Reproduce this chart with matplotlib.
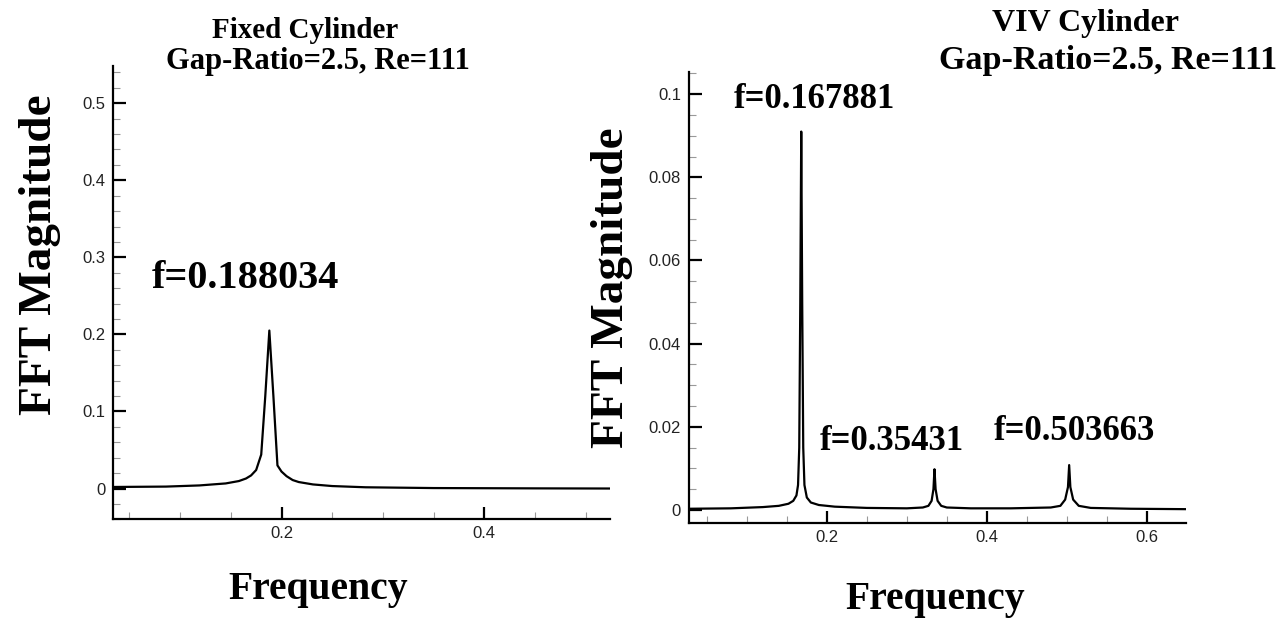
import matplotlib
matplotlib.use("Agg")
import matplotlib.pyplot as plt
from matplotlib.ticker import MultipleLocator

# Fixed cylinder spectrum
fixed_freq = [0.0335, 0.086, 0.119, 0.145, 0.158, 0.165, 0.170, 0.175,
              0.180, 0.184, 0.188, 0.192, 0.196, 0.200, 0.205, 0.211,
              0.217, 0.231, 0.25, 0.283, 0.35, 0.45, 0.524]
fixed_mag = [0.002, 0.0025, 0.004, 0.0066, 0.0097, 0.013, 0.017, 0.024,
             0.044, 0.120, 0.205, 0.120, 0.030, 0.022, 0.016, 0.011,
             0.0084, 0.0053, 0.0032, 0.0016, 0.0006, 0.0002, 0.0]
fixed_labels = ["f=0.188034"]

# VIV cylinder spectrum
viv_freq = [0.028, 0.08, 0.12, 0.14, 0.152, 0.158, 0.162, 0.164, 0.1655,
            0.1668, 0.168, 0.1692, 0.1705, 0.172, 0.175, 0.18, 0.19,
            0.21, 0.25, 0.30, 0.32, 0.327, 0.331, 0.3333, 0.3346, 0.336,
            0.3385, 0.343, 0.35, 0.38, 0.43, 0.48, 0.492, 0.498, 0.5015,
            0.503, 0.5045, 0.508, 0.515, 0.53, 0.58, 0.649]
viv_mag = [0.0003, 0.0004, 0.0007, 0.001, 0.0015, 0.0022, 0.0035, 0.006,
           0.015, 0.05, 0.091, 0.05, 0.015, 0.006, 0.003, 0.0018, 0.0012,
           0.0008, 0.0005, 0.0004, 0.0006, 0.001, 0.0022, 0.005, 0.0098,
           0.005, 0.0022, 0.001, 0.0006, 0.0004, 0.0004, 0.0006, 0.001,
           0.0025, 0.0055, 0.0108, 0.0055, 0.0025, 0.001, 0.0005, 0.0003,
           0.0002]
viv_labels = ["f=0.167881", "f=0.35431", "f=0.503663"]

serif = "Liberation Serif"
sans = "Liberation Sans"

fig = plt.figure(figsize=(12.85, 6.19), dpi=100)


def style_axes(ax, ypad):
    for s in ["top", "right"]:
        ax.spines[s].set_visible(False)
    for s in ["left", "bottom"]:
        ax.spines[s].set_linewidth(1.6)
    ax.xaxis.set_minor_locator(MultipleLocator(0.05))
    ax.tick_params(which="major", direction="in", length=9, width=1.6,
                   labelsize=12, colors="black")
    ax.tick_params(which="minor", direction="in", length=5, width=0.8,
                   color="#999999")
    ax.tick_params(axis="y", pad=ypad)
    ax.tick_params(axis="x", pad=5)
    for lab in ax.get_xticklabels() + ax.get_yticklabels():
        lab.set_family(sans)
        lab.set_color("#222222")


# left panel
ax1 = fig.add_axes([0.0877, 0.161, 0.387, 0.732])
ax1.plot(fixed_freq, fixed_mag, color="black", lw=1.6)
ax1.set_xlim(0.0335, 0.524)
ax1.set_ylim(-0.040, 0.548)
ax1.set_yticks([0, 0.1, 0.2, 0.3, 0.4, 0.5])
ax1.set_yticklabels(["0", "0.1", "0.2", "0.3", "0.4", "0.5"])
ax1.yaxis.set_minor_locator(MultipleLocator(0.02))
ax1.set_xticks([0.2, 0.4])
ax1.set_xticklabels(["0.2", "0.4"])
style_axes(ax1, 5)
ax1.text(0.164, 0.273, fixed_labels[0], ha="center", va="center",
         family=serif, weight="bold", fontsize=29)

# right panel
ax2 = fig.add_axes([0.5364, 0.1546, 0.3865, 0.7296])
ax2.plot(viv_freq, viv_mag, color="black", lw=1.6)
ax2.set_xlim(0.028, 0.649)
ax2.set_ylim(-0.0032, 0.1054)
ax2.set_yticks([0, 0.02, 0.04, 0.06, 0.08, 0.1])
ax2.set_yticklabels(["0", "0.02", "0.04", "0.06", "0.08", "0.1"])
ax2.yaxis.set_minor_locator(MultipleLocator(0.005))
ax2.set_xticks([0.2, 0.4, 0.6])
ax2.set_xticklabels(["0.2", "0.4", "0.6"])
style_axes(ax2, 6)
label_pos = [(0.185, 0.0986), (0.2814, 0.01636), (0.509, 0.01876)]
for (x, y), txt in zip(label_pos, viv_labels):
    ax2.text(x, y, txt, ha="center", va="center",
             family=serif, weight="bold", fontsize=25)

# titles and axis labels
W, H = 1285.0, 619.0
def ftext(x, y, s, size, rot=0):
    fig.text(x / W, 1 - y / H, s, ha="center", va="center", rotation=rot,
             family=serif, weight="bold", fontsize=size)

ftext(305, 30, "Fixed Cylinder", 21)
ftext(318, 62, "Gap-Ratio=2.5, Re=111", 22)
ftext(1085, 24, "VIV Cylinder", 23)
ftext(1108, 61, "Gap-Ratio=2.5, Re=111", 24.5)

ftext(40, 255, "FFT Magnitude", 34, rot=90)
ftext(612, 288, "FFT Magnitude", 34, rot=90)
ftext(318, 590, "Frequency", 28.5)
ftext(935, 600, "Frequency", 28.5)

fig.savefig("out.png", dpi=100)
